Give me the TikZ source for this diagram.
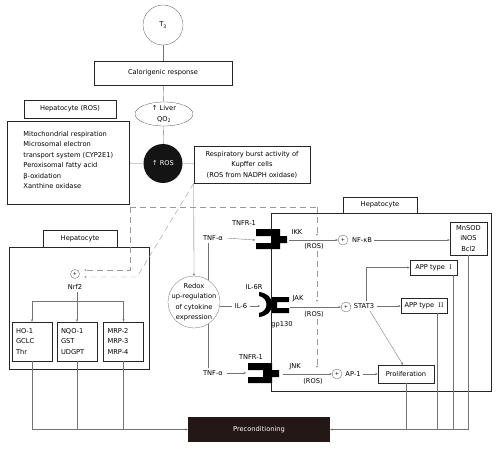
\documentclass[tikz,border=0pt]{standalone}
\usepackage{fontspec}
\setsansfont{DejaVu Sans}
\usetikzlibrary{calc,shapes.geometric,arrows.meta}

\definecolor{precol}{HTML}{231815}

\tikzset{
    box/.style={draw=black!85, line width=0.8pt, rectangle, inner sep=0pt, align=center},
    conn/.style={draw=black!55, line width=0.5pt},
    roslink/.style={draw=black!40, line width=0.6pt, dash pattern=on 0.3cm off 0.2cm},
    pluscirc/.style={draw=black!60, circle, line width=0.5pt, inner sep=0pt,
        minimum size=0.5cm, font=\sffamily\fontsize{7}{8}\selectfont},
}

\begin{document}
\begin{tikzpicture}[x=0.05cm, y=-0.05cm, >={Stealth[length=3.5pt,width=3pt]},
    font=\sffamily\fontsize{9.5}{15}\selectfont]

    \useasboundingbox (0,0) rectangle (500,450);

    \newcommand{\receptor}[2]{
        \fill[black] (#1,#2) -- ++(24,0) -- ++(0,7) -- ++(7,0) -- ++(0,7)
            -- ++(-7,0) -- ++(0,6) -- ++(-24,0) -- ++(0,-6) -- ++(15,0)
            -- ++(0,-7) -- ++(-15,0) -- cycle;
    }

    % upper chain
    \node[draw=black!70, circle, minimum size=2cm, inner sep=0pt] (t3) at (163,25) {T\textsubscript{3}};
    \node[box, minimum width=6.9cm, minimum height=1.2cm] (calor) at (163,73) {Calorigenic response};
    \node[draw=black!70, ellipse, minimum width=2.9cm, minimum height=1.2cm, inner sep=0pt,
        align=center] (liver) at (164,114) {↑ Liver\\QO\textsubscript{2}};
    \node[circle, fill=black!92, minimum size=1.95cm, inner sep=0pt, text=white] (ros) at (163,163.5) {↑ ROS};
    \node[box, minimum width=4.6cm, minimum height=0.9cm] (hepros) at (70,109) {Hepatocyte (ROS)};
    \node[box, minimum width=6.1cm, minimum height=4.15cm, line width=1pt] (srcbox) at (68,162.5) {};
    \node[anchor=west, align=left] (srctext) at (21,160) {Mitochondrial respiration\\Microsomal electron\\
        transport system (CYP2E1)\\Peroxisomal fatty acid\\β-oxidation\\Xanthine oxidase};
    \node[box, minimum width=5.8cm, minimum height=1.85cm] (resp) at (252,164.5)
        {Respiratory burst activity of\\Kupffer cells\\(ROS from NADPH oxidase)};

    \draw[conn] (t3) -- (calor);
    \draw[conn] (calor) -- (liver);
    \draw[conn] (liver) -- (ros);
    \draw[conn] (srcbox) -- (ros);
    \draw[conn] (ros) -- (resp);

    % left hepatocyte
    \node[box, minimum width=7cm, minimum height=6.1cm, line width=1pt] (lhep) at (79,308) {};
    \node[box, fill=white, minimum width=3.7cm, minimum height=0.85cm] (lheptag) at (80,238.5) {Hepatocyte};
    \node[pluscirc, minimum size=0.45cm] (nrfplus) at (75,274) {+};
    \node (nrf2) at (75,287) {Nrf2};
    \node[box, minimum width=2cm, minimum height=1.95cm, text width=1.6cm, align=left] (ho) at (32,341.5) {HO-1\\GCLC\\Thr};
    \node[box, minimum width=2cm, minimum height=1.95cm, text width=1.6cm, align=left] (nq) at (77,341.5) {NQO-1\\GST\\UDGPT};
    \node[box, minimum width=2cm, minimum height=1.95cm, text width=1.6cm, align=left] (mrp) at (123.5,341.5) {MRP-2\\MRP-3\\MRP-4};

    \coordinate (split) at (77,301);
    \draw[conn] (ho.north |- split) -- (mrp.north |- split);
    \draw[conn,->] (ho.north |- split) -- (ho.north);
    \draw[conn,->] (mrp.north |- split) -- (mrp.north);
    \draw[conn,->] (nq.north |- nrf2.south) -- (nq.north);

    % right hepatocyte
    \node[box, minimum width=11cm, minimum height=8.9cm, line width=1pt] (rhep) at (381,302) {};
    \node[box, fill=white, minimum width=3.7cm, minimum height=0.8cm] (rheptag) at (380,205) {Hepatocyte};

    \receptor{256}{229}
    \receptor{248}{363}
    \fill[black] (259,292) .. controls (267,293) and (272,297) .. (272,304.5)
        .. controls (272,312) and (267,316) .. (259,317)
        -- (259,313) .. controls (269,311) and (269,298) .. (259,296) -- cycle;
    \fill[black] (272,297) -- (289,297) -- (289,302) -- (277,302) -- (277,308)
        -- (289,308) -- (289,313) -- (272,313) -- cycle;

    \node (tnfr1) at (244,223) {TNFR-1};
    \node (il6r) at (254,287) {IL-6R};
    \node (gp130) at (282,325) {gp130};
    \node (tnfr2) at (251,357) {TNFR-1};
    \node (ikk) at (297,232) {IKK};
    \node (jak) at (298,299) {JAK};
    \node (jnk) at (295,367) {JNK};
    \node (ros1) at (314,246) {(ROS)};
    \node (ros2) at (314,314) {(ROS)};
    \node (ros3) at (313,381) {(ROS)};

    \node (tnfa1) at (213,238) {TNF-α};
    \node (il6) at (241,306) {IL-6};
    \node (tnfa2) at (213,373) {TNF-α};
    \node[circle, draw=black!60, minimum size=2.6cm, inner sep=0pt,
        label={[align=center]center:Redox\\up-regulation\\of cytokine\\expression}] (redox) at (194,302) {};

    \coordinate (r1in) at (255,240);
    \coordinate (r2in) at (260,306);
    \coordinate (r3in) at (246,373);
    \coordinate (r1out) at (289,240);
    \coordinate (r2out) at (290,307);
    \coordinate (r3out) at (283,374);

    \node[pluscirc] (plus1) at (343,240) {+};
    \node[pluscirc] (plus2) at (346,307) {+};
    \node[pluscirc] (plus3) at (337,374) {+};
    \node (nfkb) at (362,240) {NF-κB};
    \node (stat3) at (364,306) {STAT3};
    \node (ap1) at (353,374) {AP-1};

    \node[box, minimum width=1.85cm, minimum height=1.65cm] (mn) at (468.5,238.5) {MnSOD\\iNOS\\Bcl2};
    \node[box, minimum width=2.35cm, minimum height=0.75cm] (app1) at (433.5,267.5) {APP type\ \ {\rmfamily I}};
    \node[box, minimum width=2.3cm, minimum height=0.75cm] (app2) at (424,305.5) {APP type\ \ {\rmfamily II}};
    \node[box, minimum width=2.8cm, minimum height=0.9cm] (prolif) at (406,374) {Proliferation};
    \node[fill=precol, text=white, minimum width=7.1cm, minimum height=1.25cm] (pc) at (259,429.5) {Preconditioning};

    \draw[conn,->] (resp.south west) -- (redox.north);
    \draw[conn] (redox.58) -- (redox.58 |- tnfa1.south);
    \draw[conn] (redox.-58) -- (redox.-58 |- tnfa2.north);
    \draw[conn] (redox.east |- il6.west) -- (il6.west);
    \draw[conn,->] (il6.east) -- (r2in);
    \draw[conn,->, shorten <=3pt] (tnfa1.east) -- (r1in);
    \draw[conn,->, shorten <=3pt] (tnfa2.east) -- (r3in);
    \draw[conn,->] (r1out) -- (plus1);
    \draw[conn,->] (r2out) -- (plus2);
    \draw[conn,->] (r3out) -- (plus3);
    \draw[conn,->] (nfkb.east) -- (nfkb.east -| mn.west);
    \draw[conn,->] (stat3.east) -- (stat3.east -| app2.west);
    \draw[conn,->] ($(stat3.north)+(2,0)$) |- (app1);
    \draw[conn,->] ($(stat3.south)+(6,0)$) -- ($(prolif.north)+(-3,0)$);
    \draw[conn,->] (ap1) -- (prolif);

    % ROS links
    \coordinate (dtl) at (130,207);
    \coordinate (dtr) at (317,207);
    \coordinate (k1) at (317,236);
    \coordinate (k2) at (317,302);
    \coordinate (k3) at (317,368);
    \coordinate (n1) at (84,270);
    \coordinate (n2) at (84,277);
    \coordinate (dbend) at (137,277);
    \draw[roslink] (dtl) -- (dtr);
    \draw[roslink,->] (dtr) -- (k1);
    \draw[roslink,->] (ros1.south -| dtr) -- (k2);
    \draw[roslink,->] (ros2.south -| dtr) -- (k3);
    \draw[roslink,->] (dtl) |- (n1);
    \draw[roslink,->] (resp.south west) -- (dbend) -- (n2);

    % to preconditioning
    \coordinate (app1out) at ($(app1.south)+(19.5,0)$);
    \coordinate (app2out) at ($(app2.south)+(13,0)$);
    \draw[conn,->] (ho.south) |- (pc.west);
    \draw[conn] (nq.south) -- (nq.south |- pc.west);
    \draw[conn] (mrp.south) -- (mrp.south |- pc.west);
    \draw[conn,->] (mn.south) |- (pc.east);
    \draw[conn] (prolif.south) -- (prolif.south |- pc.east);
    \draw[conn] (app2out) -- (app2out |- pc.east);
    \draw[conn] (app1out) -- (app1out |- pc.east);

\end{tikzpicture}
\end{document}
